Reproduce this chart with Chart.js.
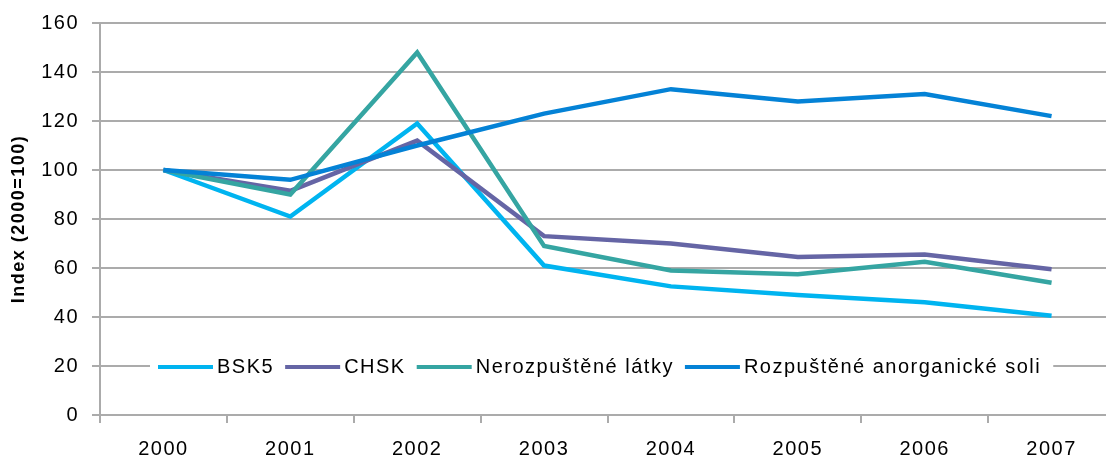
<!DOCTYPE html>
<html><head><meta charset="utf-8">
<style>
html,body{margin:0;padding:0;overflow:hidden;background:#fff;}
#wrap{width:1115px;height:458px;}
canvas{display:block;}
</style>
<script src="https://cdn.jsdelivr.net/npm/chart.js@4/dist/chart.umd.min.js"></script>
</head>
<body>
<div id="wrap"><canvas id="c" width="1115" height="458"></canvas></div>
<script>
// ---- data ----
const years = ['2000','2001','2002','2003','2004','2005','2006','2007'];
const bsk5  = [100, 81, 119, 61, 52.5, 49, 46, 40.5];
const chsk  = [100, 91.5, 112, 73, 70, 64.5, 65.5, 59.5];
const neroz = [100, 90, 148, 69, 59, 57.5, 62.5, 54];
const rozp  = [100, 96, 110, 123, 133, 128, 131, 122];
const seriesNames = ['BSK5', 'CHSK', 'Nerozpuštěné látky', 'Rozpuštěné anorganické soli'];
const seriesValues = [bsk5, chsk, neroz, rozp];
const seriesColors = ['#00B4F0', '#6565A5', '#35A5A2', '#0482D6'];
const yMin = 0, yMax = 160, yStep = 20;
const yTitle = 'Index (2000=100)';

const FONT = "'Liberation Sans', Arial, sans-serif";
const GRID = '#ABABAB';
const SPACING = '1.5px';

const spacingPlugin = {
  id: 'spacing',
  beforeUpdate(c){ c.ctx.letterSpacing = SPACING; },
  beforeLayout(c){ c.ctx.letterSpacing = SPACING; },
  beforeDraw(c){ c.ctx.letterSpacing = SPACING; }
};

const legendPlugin = {
  id: 'innerLegend',
  afterDraw(c){
    const ctx = c.ctx;
    ctx.save();
    ctx.letterSpacing = SPACING;
    ctx.font = '20px ' + FONT;
    const y = c.scales.y.getPixelForValue(20) + 1;
    const boxLeft = 150;
    const lineLen = 55, lineGap = 4, itemGap = 11;
    let x = boxLeft + 8;
    const items = [];
    c.data.datasets.forEach(ds => {
      const w = ctx.measureText(ds.label).width;
      items.push({x, w, label: ds.label, color: ds.borderColor});
      x += lineLen + lineGap + w + itemGap;
    });
    const boxRight = x - itemGap + 12;
    ctx.fillStyle = '#ffffff';
    ctx.fillRect(boxLeft, y - 11, boxRight - boxLeft, 22);
    items.forEach(it => {
      ctx.strokeStyle = it.color;
      ctx.lineWidth = 4;
      ctx.lineCap = 'butt';
      ctx.beginPath();
      ctx.moveTo(it.x, y);
      ctx.lineTo(it.x + lineLen, y);
      ctx.stroke();
      ctx.fillStyle = '#000';
      ctx.textBaseline = 'middle';
      ctx.textAlign = 'left';
      ctx.fillText(it.label, it.x + lineLen + lineGap, y);
    });
    ctx.restore();
  }
};

const datasets = seriesNames.map((name, i) => ({
  label: name,
  data: seriesValues[i],
  borderColor: seriesColors[i],
  backgroundColor: seriesColors[i],
  borderWidth: 4.5,
  pointRadius: 0,
  tension: 0,
  fill: false,
  borderJoinStyle: 'miter',
  order: seriesNames.length - 1 - i
}));

new Chart(document.getElementById('c'), {
  type: 'line',
  data: { labels: years, datasets },
  plugins: [spacingPlugin, legendPlugin],
  options: {
    responsive: false,
    devicePixelRatio: 1,
    animation: false,
    layout: { padding: { top: 23, left: 0, right: 0, bottom: 0 } },
    plugins: { legend: { display: false }, tooltip: { enabled: false } },
    scales: {
      x: {
        type: 'category',
        offset: true,
        grid: { display: true, drawOnChartArea: false, drawTicks: true, tickLength: 8, offset: true, color: GRID, lineWidth: 2 },
        border: { display: true, color: GRID, width: 2 },
        ticks: { color: '#000', font: { size: 20, family: FONT }, padding: 14, maxRotation: 0, autoSkip: false },
        afterFit(s){ s.height = 43; s.paddingLeft = 0; s.paddingRight = 0; }
      },
      y: {
        min: yMin, max: yMax,
        ticks: { stepSize: yStep, color: '#000', font: { size: 20, family: FONT }, padding: 13 },
        grid: { color: GRID, lineWidth: 2, tickLength: 8, drawTicks: true },
        border: { display: true, color: GRID, width: 2 },
        title: { display: true, text: yTitle, color: '#000', font: { size: 18, weight: 'bold', family: FONT }, padding: { top: 8, bottom: 0 } },
        afterFit(s){ s.width = 100; s.paddingTop = 0; s.paddingBottom = 0; }
      }
    }
  }
});
</script>
</body></html>
